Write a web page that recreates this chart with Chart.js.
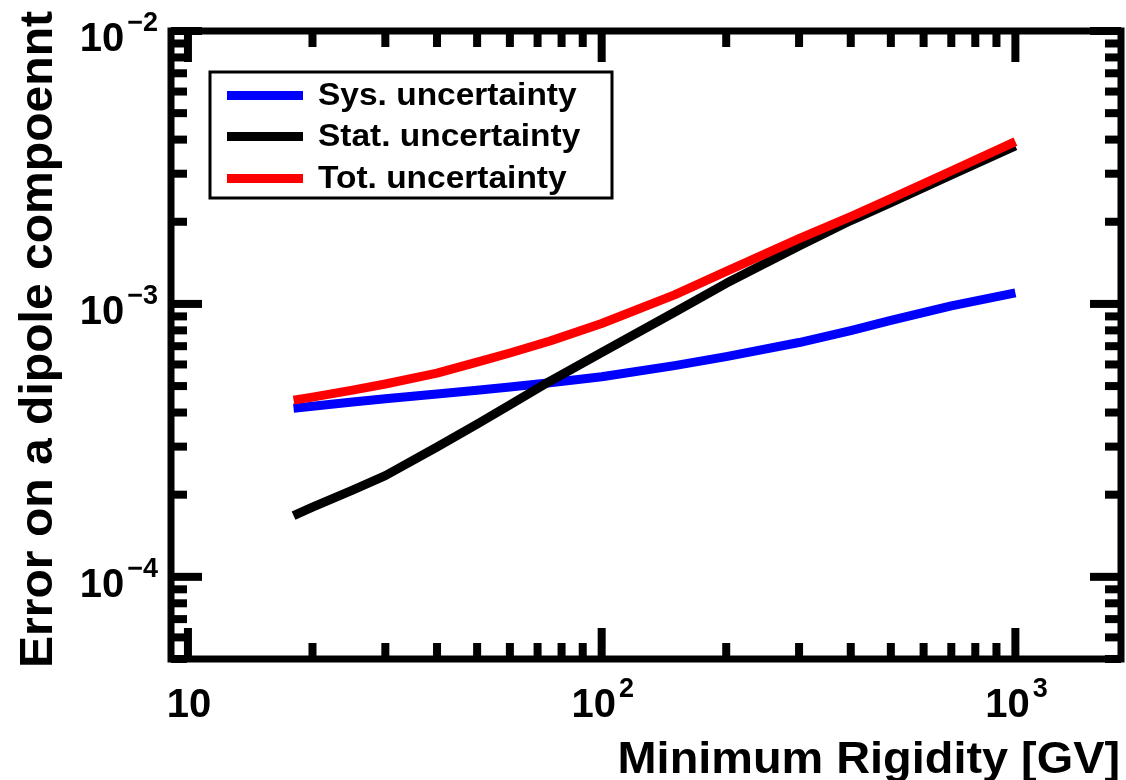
<!DOCTYPE html>
<html>
<head>
<meta charset="utf-8">
<script src="https://cdn.jsdelivr.net/npm/chart.js@4/dist/chart.umd.min.js"></script>
<style>
  body { margin: 0; background: #fff; }
</style>
</head>
<body>
<canvas id="dipoleChart" width="1126" height="780"></canvas>
<script>
// values
const rigidity = [18, 20, 25, 30, 40, 50, 60, 75, 100, 150, 200, 300, 400, 500, 700, 1000]
const sysErr = [4.145e-4, 4.215e-4, 4.37e-4, 4.495e-4, 4.677e-4, 4.83e-4, 4.96e-4, 5.145e-4, 5.41e-4, 5.94e-4, 6.41e-4, 7.22e-4, 7.99e-4, 8.70e-4, 9.83e-4, 1.098e-3]
const statErr = [1.675e-4, 1.80e-4, 2.08e-4, 2.35e-4, 2.99e-4, 3.63e-4, 4.27e-4, 5.21e-4, 6.64e-4, 9.32e-4, 1.19e-3, 1.63e-3, 2.02e-3, 2.35e-3, 2.97e-3, 3.79e-3]
const totErr = [4.44e-4, 4.555e-4, 4.83e-4, 5.09e-4, 5.58e-4, 6.12e-4, 6.61e-4, 7.31e-4, 8.48e-4, 1.079e-3, 1.317e-3, 1.734e-3, 2.09e-3, 2.43e-3, 3.07e-3, 3.93e-3]

const seriesLabels = ['Sys. uncertainty', 'Stat. uncertainty', 'Tot. uncertainty']

const xTickValues = [10, 100, 1000]
const xTickExps = ['', '2', '3']
const yTickValues = [1e-2, 1e-3, 1e-4]
const yTickExps = ['\u22122', '\u22123', '\u22124']

const xTitle = 'Minimum Rigidity [GV]'
const yTitle = 'Error on a dipole compoennt'

const FONT = '"Liberation Sans", Arial, Helvetica, sans-serif'

function toPoints(ys) {
    return rigidity.map((r, i) => ({ x: r, y: ys[i] }))
}

// text drawn a little wider than the font, like the reference
function stretchedText(ctx, text, x, y, sx, align) {
    ctx.save()
    ctx.translate(x, y)
    ctx.scale(sx, 1)
    ctx.textAlign = align
    ctx.fillText(text, 0, 0)
    ctx.restore()
}

// inward ticks on all four sides + thick frame
const frameTicks = {
    id: 'frameTicks',
    afterDatasetsDraw(chart) {
        const { ctx, chartArea: a, scales: { x, y } } = chart
        ctx.save()
        ctx.fillStyle = '#000'
        for (let d = 0; d <= 4; d++) {
            for (let m = 1; m <= 9; m++) {
                const v = m * Math.pow(10, d)
                if (v < x.min || v > x.max) continue
                const px = x.getPixelForValue(v)
                const len = m === 1 ? 31 : 16
                ctx.fillRect(px - 4, a.bottom - len, 8, len)
                ctx.fillRect(px - 4, a.top, 8, len)
            }
        }
        for (let d = -5; d <= -2; d++) {
            for (let m = 1; m <= 9; m++) {
                const v = m * Math.pow(10, d)
                if (v < y.min * 0.999 || v > y.max * 1.001) continue
                const py = y.getPixelForValue(v)
                const len = m === 1 ? 31 : 16
                ctx.fillRect(a.left, py - 4, len, 8)
                ctx.fillRect(a.right - len, py - 4, len, 8)
            }
        }
        ctx.lineWidth = 7
        ctx.strokeStyle = '#000'
        ctx.strokeRect(a.left, a.top, a.right - a.left, a.bottom - a.top)
        ctx.restore()
    }
}

// power-of-ten labels, axis titles and the boxed legend
const labelsAndLegend = {
    id: 'labelsAndLegend',
    afterDraw(chart) {
        const { ctx, chartArea: a, scales: { x, y } } = chart
        ctx.save()
        ctx.fillStyle = '#000'
        ctx.textBaseline = 'alphabetic'
        ctx.textAlign = 'left'

        const mainFont = 'bold 40px ' + FONT
        const supFont = 'bold 27px ' + FONT
        function measure(base, exp) {
            ctx.font = mainFont
            const w1 = ctx.measureText(base).width
            ctx.font = supFont
            const w2 = exp ? ctx.measureText(exp).width + 3 : 0
            return [w1, w2]
        }
        function drawPow(base, exp, left, baseline, w1) {
            ctx.font = mainFont
            ctx.fillText(base, left, baseline)
            if (exp) {
                ctx.font = supFont
                ctx.fillText(exp, left + w1 + 3, baseline - 20)
            }
        }

        xTickValues.forEach((v, i) => {
            const [w1, w2] = measure('10', xTickExps[i])
            const px = x.getPixelForValue(v)
            drawPow('10', xTickExps[i], px - (w1 + w2) / 2 + 1, a.bottom + 58, w1)
        })
        yTickValues.forEach((v, i) => {
            const [w1, w2] = measure('10', yTickExps[i])
            const py = y.getPixelForValue(v)
            drawPow('10', yTickExps[i], a.left - 13 - (w1 + w2), py + 20, w1)
        })

        ctx.font = 'bold 44px ' + FONT
        stretchedText(ctx, xTitle, 1120, 773, 1.065, 'right')

        ctx.save()
        ctx.translate(52, 11)
        ctx.rotate(-Math.PI / 2)
        ctx.font = 'bold 46px ' + FONT
        stretchedText(ctx, yTitle, 0, 0, 1.045, 'right')
        ctx.restore()

        // legend
        ctx.lineWidth = 3
        ctx.strokeStyle = '#000'
        ctx.strokeRect(210, 72, 402, 126)
        const rows = [95, 136, 178]
        ctx.font = 'bold 31px ' + FONT
        chart.data.datasets.forEach((ds, i) => {
            ctx.fillStyle = ds.borderColor
            ctx.fillRect(227, rows[i] - 4, 76, 9)
            ctx.fillStyle = '#000'
            stretchedText(ctx, ds.label, 318, rows[i] + 10, 1.08, 'left')
        })
        ctx.restore()
    }
}

const ctx = document.getElementById('dipoleChart').getContext('2d')
const dipoleChart = new Chart(ctx, {
    type: 'line',
    data: {
        datasets: [
            { label: seriesLabels[0], data: toPoints(sysErr), borderColor: '#0000ff', order: 2 },
            { label: seriesLabels[1], data: toPoints(statErr), borderColor: '#000000', order: 1 },
            { label: seriesLabels[2], data: toPoints(totErr), borderColor: '#ff0000', order: 0 }
        ]
    },
    options: {
        responsive: false,
        animation: false,
        devicePixelRatio: 1,
        layout: { padding: { left: 171, top: 31, right: 5, bottom: 121 } },
        elements: {
            line: { borderWidth: 9, tension: 0, fill: false, borderCapStyle: 'butt', borderJoinStyle: 'round' },
            point: { radius: 0, hoverRadius: 0 }
        },
        plugins: {
            legend: { display: false },
            tooltip: { enabled: false }
        },
        scales: {
            x: { type: 'logarithmic', min: 9.1, max: 1800, display: false },
            y: { type: 'logarithmic', min: 5e-5, max: 1e-2, display: false }
        }
    },
    plugins: [frameTicks, labelsAndLegend]
})
</script>
</body>
</html>
